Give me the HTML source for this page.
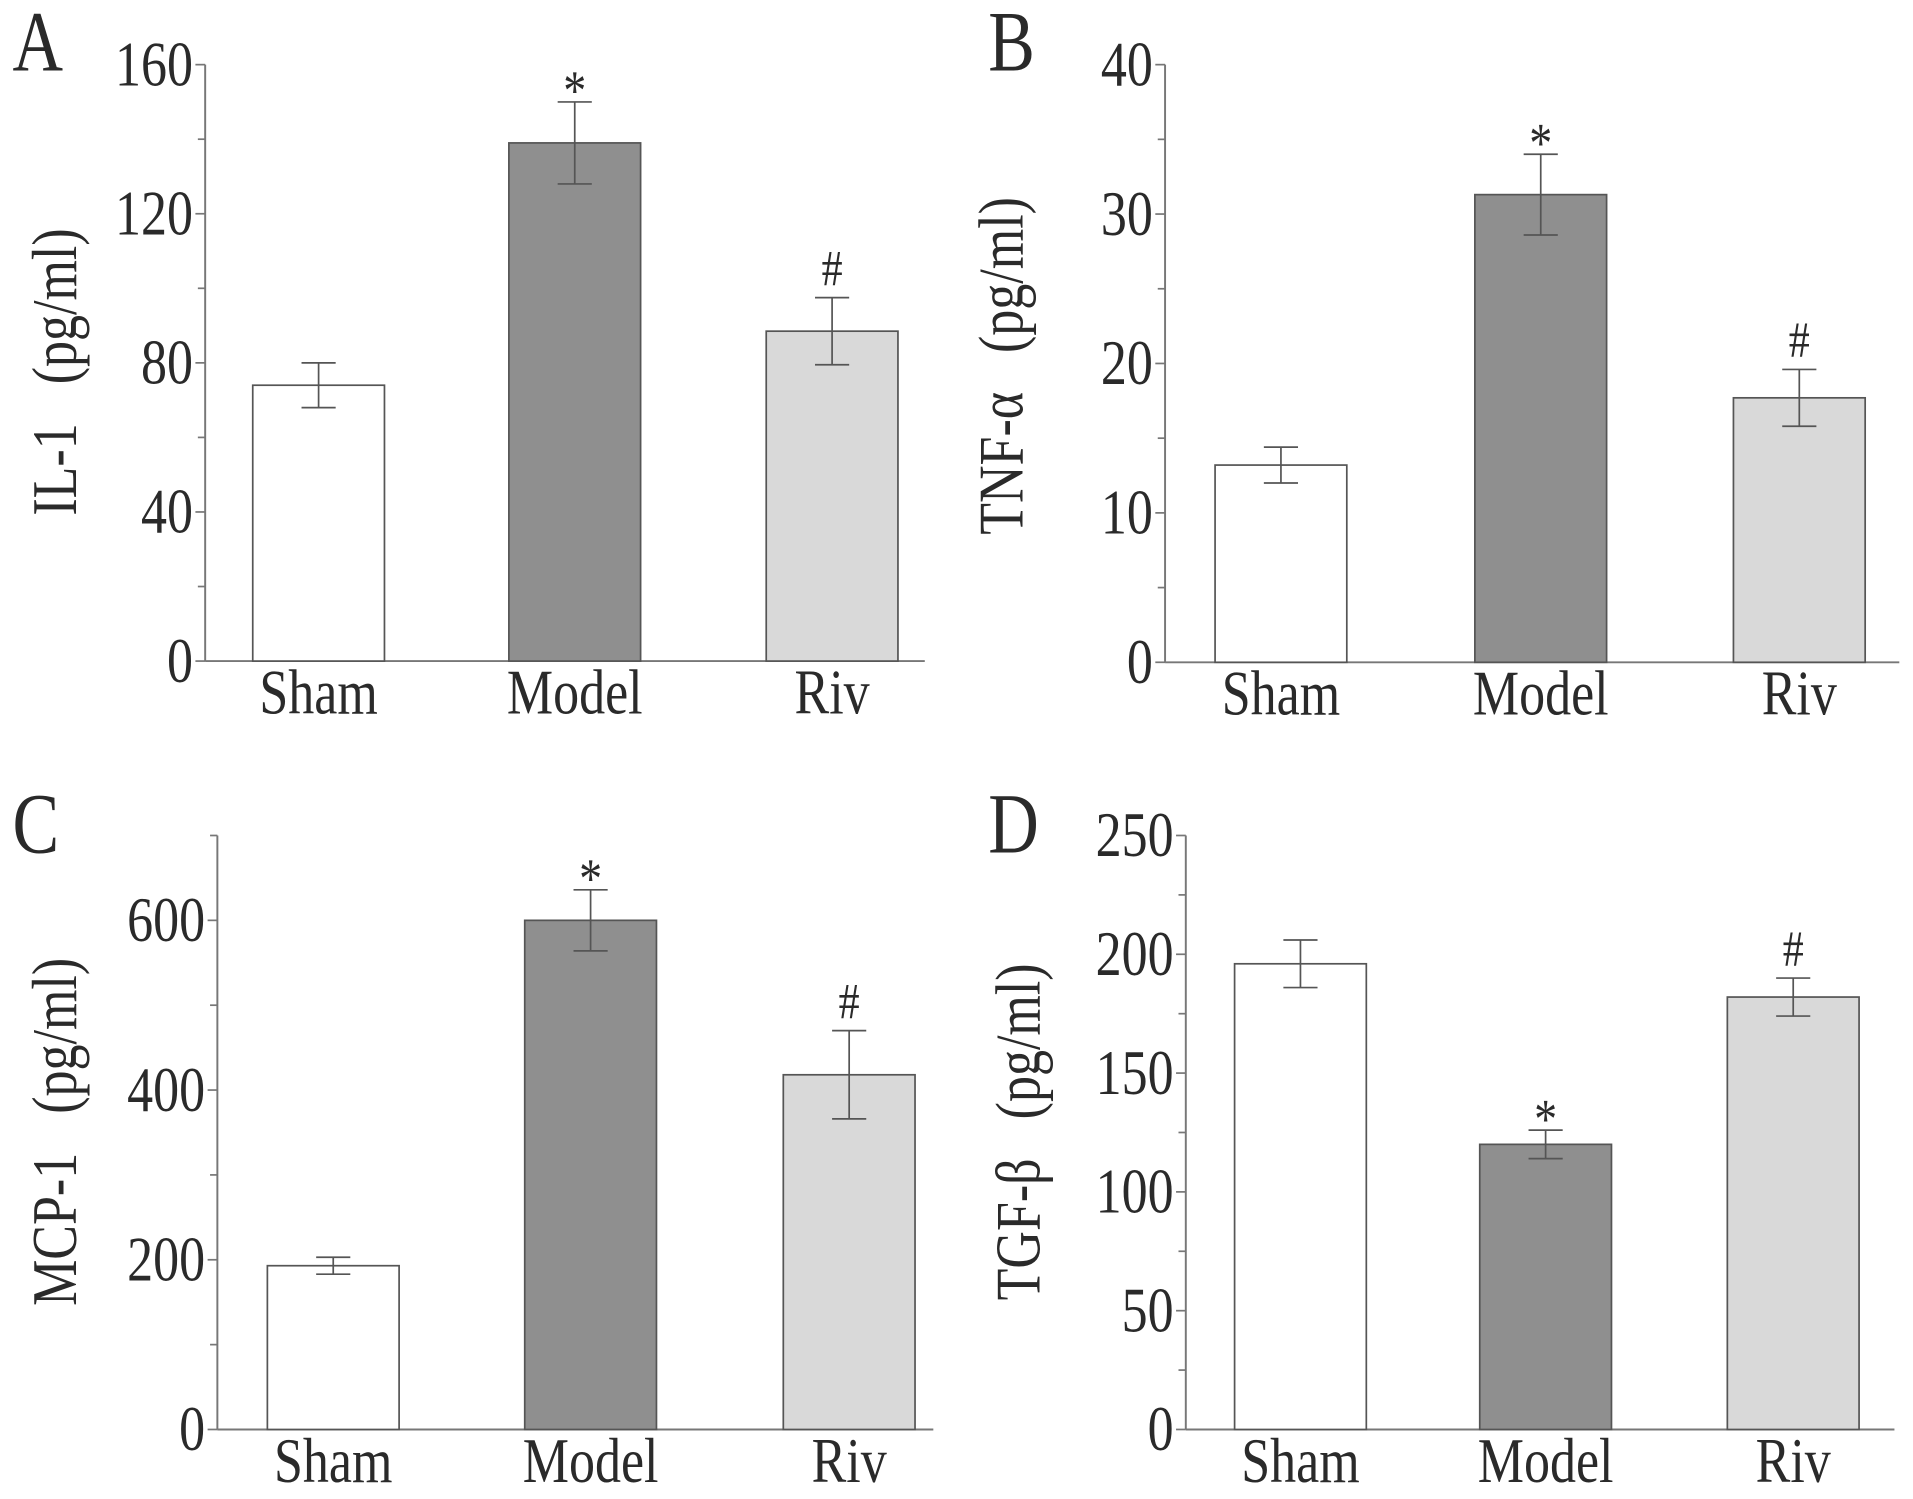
<!DOCTYPE html>
<html><head><meta charset="utf-8"><style>
html,body{margin:0;padding:0;background:#fff;}
svg{display:block;}
text{font-family:"Liberation Serif",serif;fill:#2a2a2a;white-space:pre;}
</style></head><body>
<svg id="fig" width="1913" height="1499" viewBox="0 0 1568 1229" xmlns="http://www.w3.org/2000/svg"></svg>
<script>
const categories = ["Sham","Model","Riv"];
const fills = ["#ffffff","#8f8f8f","#d9d9d9"];
const ilValues = [74, 139, 88.5];
const ilErrors = [6, 11, 9];
const ilMarks = ["", "*", "#"];
const ilTicks = [0,40,80,120,160];
const tnfValues = [13.2, 31.3, 17.7];
const tnfErrors = [1.2, 2.7, 1.9];
const tnfMarks = ["", "*", "#"];
const tnfTicks = [0,10,20,30,40];
const mcpValues = [193, 600, 418];
const mcpErrors = [10, 36, 52];
const mcpMarks = ["", "*", "#"];
const mcpTicks = [0,200,400,600];
const mcpMax = 700;
const tgfValues = [196, 120, 182];
const tgfErrors = [10, 6, 8];
const tgfMarks = ["", "*", "#"];
const tgfTicks = [0,50,100,150,200,250];

const NS="http://www.w3.org/2000/svg";
const svg=document.getElementById('fig');
function mk(tag,attrs,parent){const e=document.createElementNS(NS,tag);for(const k in attrs)e.setAttribute(k,attrs[k]);(parent||svg).appendChild(e);return e;}
function txt(s,x,y,size,anchor,parent,extra){const t=mk('text',Object.assign({x:0,y:0,'font-size':size,'text-anchor':anchor,transform:`translate(${x},${y}) scale(0.82,1)`},extra||{}),parent);t.textContent=s;return t;}

function panel(cfg){
  const g=mk('g',{});
  
  
  const ymax=cfg.max, x0=cfg.ax, y0=cfg.zero, yt=cfg.top;
  const Y=v=>y0-(v/ymax)*(y0-yt);
  const ax=mk('line',{x1:x0,y1:yt,x2:x0,y2:y0,stroke:'#777','stroke-width':1.6},g);
  
  
  const xa=mk('line',{x1:x0,y1:y0,x2:cfg.xend,y2:y0,stroke:'#777','stroke-width':1.6},g);
  
  
  const step=cfg.ticks[1]-cfg.ticks[0];
  for(let v=0; v<=ymax+1e-9; v+=step/2){
    const major=cfg.ticks.includes(v);
    mk('line',{x1:x0-(major?8:6),y1:Y(v),x2:x0,y2:Y(v),stroke:'#777','stroke-width':1.4},g);
  }
  cfg.ticks.forEach(v=>{
    const t=txt(String(v),x0-10,Y(v)+17,52,'end',g);
    
    
  });
  cfg.values.forEach((v,i)=>{
    const bx=cfg.bars[i], bw=108;
    const r=mk('rect',{x:bx,y:Y(v),width:bw,height:y0-Y(v),fill:fills[i],stroke:'#555','stroke-width':1.4},g);
    
    
    const cx=bx+bw/2, e=cfg.errors[i];
    const eg=mk('g',{stroke:'#555','stroke-width':1.4},g);
    
    
    mk('line',{x1:cx,y1:Y(v+e),x2:cx,y2:Y(v-e)},eg);
    mk('line',{x1:cx-14,y1:Y(v+e),x2:cx+14,y2:Y(v+e)},eg);
    mk('line',{x1:cx-14,y1:Y(v-e),x2:cx+14,y2:Y(v-e)},eg);
    if(cfg.marks[i]){
      const m=txt(cfg.marks[i],cx,Y(v+e)-(cfg.marks[i]=='*'?-6:10),cfg.marks[i]=='*'?46:42,'middle',g);
      
      
    }
    const c=txt(categories[i],cx,y0+43,52,'middle',g);
    
    
  });
  const yl=mk('text',{x:0,y:0,'font-size':52,'text-anchor':'middle',transform:`translate(${cfg.tx},${cfg.ty}) rotate(-90) scale(0.82,1)`},g);
  yl.textContent=cfg.title;
  
  
  const pl=txt(cfg.letter,cfg.lx,cfg.ly,70,'start',g);
  
  
}

panel({name:'panel-il1',letter:'A',lx:10,ly:58,ax:168,top:53,zero:542,xend:758,max:160,ticks:ilTicks,values:ilValues,errors:ilErrors,marks:ilMarks,bars:[207,417,628],title:'IL-1   (pg/ml)',tx:62,ty:305});
panel({name:'panel-tnf',letter:'B',lx:810,ly:58,ax:955,top:53,zero:543,xend:1557,max:40,ticks:tnfTicks,values:tnfValues,errors:tnfErrors,marks:tnfMarks,bars:[996,1209,1421],title:'TNF-α   (pg/ml)',tx:838,ty:300});
panel({name:'panel-mcp1',letter:'C',lx:10,ly:699,ax:178,top:685,zero:1172,xend:765,max:mcpMax,ticks:mcpTicks,values:mcpValues,errors:mcpErrors,marks:mcpMarks,bars:[219,430,642],title:'MCP-1   (pg/ml)',tx:62,ty:928});
panel({name:'panel-tgfb',letter:'D',lx:810,ly:699,ax:972,top:685,zero:1172,xend:1553,max:250,ticks:tgfTicks,values:tgfValues,errors:tgfErrors,marks:tgfMarks,bars:[1012,1213,1416],title:'TGF-β   (pg/ml)',tx:852,ty:928});
</script>
</body></html>
